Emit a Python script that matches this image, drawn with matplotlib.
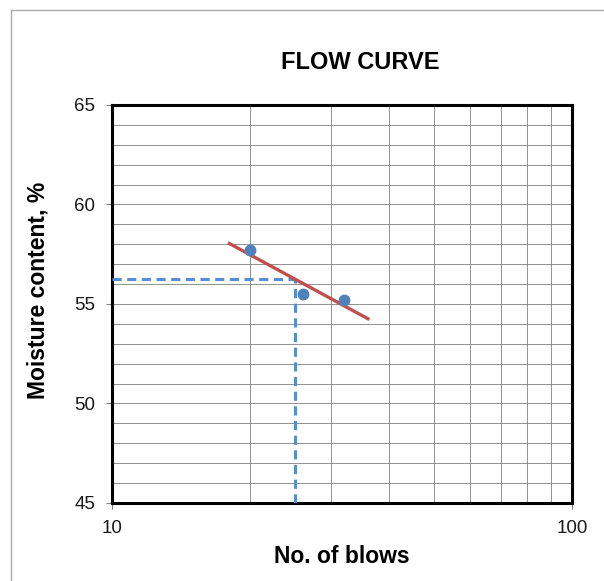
import matplotlib
matplotlib.use("Agg")
import matplotlib.pyplot as plt
import numpy as np
from matplotlib.patches import Rectangle
from matplotlib.ticker import FixedLocator, NullFormatter

plt.rcParams['font.family'] = ['Liberation Sans', 'DejaVu Sans']

# Test results
blows = [20, 26, 32]
moisture = [57.7, 55.5, 55.2]

# Range of the flow line and the standard 25 blows
trend_range = [18, 36]
target_blows = 25

# Flow curve: moisture vs log10(blows)
slope, intercept = np.polyfit(np.log10(blows), moisture, 1)
trend_x = np.array(trend_range, dtype=float)
trend_y = slope * np.log10(trend_x) + intercept
liquid_limit = slope * np.log10(target_blows) + intercept

fig = plt.figure(figsize=(6.04, 5.81), dpi=100)
ax = fig.add_axes([112 / 604, 1 - 503 / 581, 460 / 604, 398 / 581])

ax.set_xscale('log')
ax.set_xlim(10, 100)
ax.set_ylim(45, 65)

# Grid
ax.xaxis.set_major_locator(FixedLocator([10, 100]))
ax.xaxis.set_minor_locator(FixedLocator(range(20, 100, 10)))
ax.xaxis.set_minor_formatter(NullFormatter())
ax.set_xticklabels(['10', '100'])
ax.yaxis.set_major_locator(FixedLocator(range(45, 66, 5)))
ax.yaxis.set_minor_locator(FixedLocator(range(45, 66, 1)))
ax.grid(which='both', color='#808080', linewidth=0.6)
ax.set_axisbelow(True)
ax.tick_params(which='major', direction='out', length=4, width=0.8, color='#808080',
               labelsize=13.5, labelcolor='#1a1a1a', pad=8)
ax.tick_params(which='minor', length=0)

for s in ax.spines.values():
    s.set_linewidth(2.2)
    s.set_color('black')

# Dashed guide lines at 25 blows
ax.plot([10, target_blows], [liquid_limit, liquid_limit], color='#558ED5',
        linewidth=2.2, dashes=(3, 1.8), solid_capstyle='butt', zorder=3)
ax.plot([target_blows, target_blows], [45, liquid_limit], color='#558ED5',
        linewidth=2.2, dashes=(3, 1.8), zorder=3)

ax.plot(trend_x, trend_y, color='#C0504D', linewidth=2.4, zorder=4)
ax.plot(blows, moisture, 'o', color='#4F81BD', markersize=7.5, zorder=5)

ax.set_title('FLOW CURVE', fontsize=17, fontweight='bold', pad=26, x=0.54)
ax.set_xlabel('No. of blows', fontsize=16.5, fontweight='bold', labelpad=6)
ax.set_ylabel('Moisture content, %', fontsize=16.5, fontweight='bold')
ax.yaxis.set_label_coords(-0.135, 0.535)

# Chart area border (cropped on right and bottom)
fig.patches.append(Rectangle((11 / 604, -0.1), 1.2, 1.1 - 10 / 581,
                             transform=fig.transFigure, fill=False,
                             edgecolor='#AAAAAA', linewidth=1))

fig.savefig('out.png', dpi=100)
